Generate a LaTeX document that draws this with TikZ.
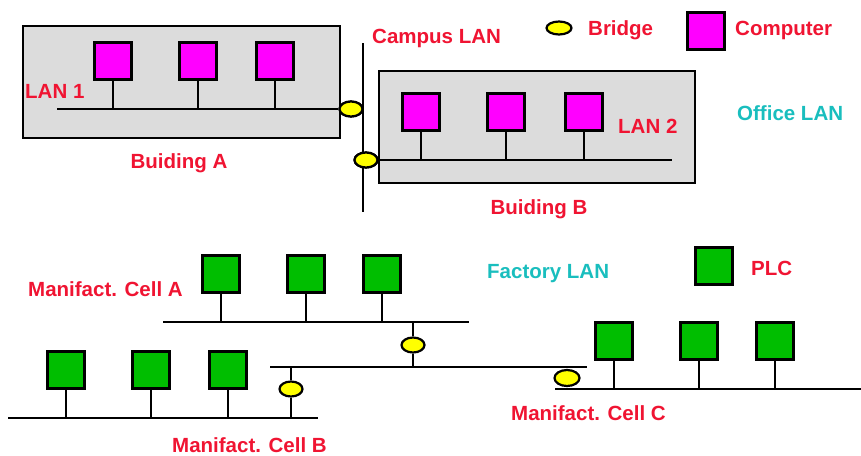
\documentclass[tikz,border=0pt]{standalone}
\usepackage{fontspec}
\setmainfont{Liberation Sans}
\usetikzlibrary{shapes.geometric}
\definecolor{lblred}{RGB}{240,20,50}
\definecolor{lblcyan}{RGB}{25,190,190}
\definecolor{pcmag}{RGB}{255,0,255}
\definecolor{plcgreen}{RGB}{0,190,0}
\definecolor{bldgray}{RGB}{220,220,220}
\definecolor{brgyellow}{RGB}{255,255,0}
\begin{document}
\begin{tikzpicture}[x=1pt,y=-1pt,
  wire/.style={line width=2.7pt},
  building/.style={draw, line width=2.8pt, fill=bldgray},
  pc/.style={draw, line width=2.8pt, fill=pcmag, minimum size=36.5pt, inner sep=0pt},
  plc/.style={draw, line width=2.8pt, fill=plcgreen, minimum size=36.5pt, inner sep=0pt},
  bridge/.style={ellipse, draw, line width=2.2pt, fill=brgyellow, minimum width=23pt, minimum height=15pt, inner sep=0pt},
  lbl/.style={text=lblred, font=\fontsize{20.5}{23}\selectfont\bfseries, inner sep=0pt},
  lblc/.style={text=lblcyan, font=\fontsize{20.5}{23}\selectfont\bfseries, inner sep=0pt}]
\useasboundingbox (0,0) rectangle (861,455);
\fill[white] (0,0) rectangle (861,455);

% Buildings
\draw[building] (23,26) rectangle (340,138);
\draw[building] (379,71) rectangle (695,183);

% Campus LAN backbone
\coordinate (campT) at (363,43);
\coordinate (campB) at (363,212);

% LAN 1
\coordinate (lan1L) at (57,109);
\node[bridge] (brA) at (351,109) {};
\draw[wire] (lan1L) -- (brA.west);
\node[pc] (a1) at (113,61) {};
\node[pc] (a2) at (198,61) {};
\node[pc] (a3) at (275,61) {};
\foreach \c in {a1,a2,a3} \draw[wire] (\c.south) -- (\c.south |- lan1L);

% LAN 2
\coordinate (lan2R) at (672,160);
\node[bridge] (brB) at (366,160) {};
\draw[wire] (brB.east) -- (lan2R);
\node[pc] (b1) at (421,112) {};
\node[pc] (b2) at (506,112) {};
\node[pc] (b3) at (584,112) {};
\foreach \c in {b1,b2,b3} \draw[wire] (\c.south) -- (\c.south |- lan2R);
\draw[wire] (campT) -- (campB);
\node[bridge] at (brA) {};
\node[bridge] at (brB) {};

% Legend
\node[bridge, minimum width=25pt, minimum height=13pt] (lgBr) at (559,28) {};
\node[lbl, anchor=west] (lgBrT) at (588,30) {Bridge};
\node[pc] (lgPc) at (706,31) {};
\node[lbl, anchor=west] (lgPcT) at (735,30) {Computer};
\node[plc] (lgPlc) at (714,266) {};
\node[lbl, anchor=west] (lgPlcT) at (751,268) {PLC};

% Labels top
\node[lbl, anchor=west] (tCampus) at (372,38) {Campus LAN};
\node[lbl, anchor=west] (tLan1) at (25,91) {LAN 1};
\node[lbl, anchor=west] (tLan2) at (618,126) {LAN 2};
\node[lbl] (tBA) at (179,163) {Buiding A};
\node[lbl] (tBB) at (539,209) {Buiding B};
\node[lblc, anchor=west] (tOffice) at (737,113) {Office LAN};
\node[lblc, anchor=west] (tFactory) at (487,274) {Factory LAN};

% Factory backbone
\coordinate (bbL) at (270,367);
\coordinate (bbR) at (587,367);
\draw[wire] (bbL) -- (bbR);

% Cell A
\coordinate (cAL) at (163,322);
\coordinate (cAR) at (469,322);
\draw[wire] (cAL) -- (cAR);
\node[plc] (ca1) at (221,274) {};
\node[plc] (ca2) at (306,274) {};
\node[plc] (ca3) at (382,274) {};
\foreach \c in {ca1,ca2,ca3} \draw[wire] (\c.south) -- (\c.south |- cAL);
\node[bridge] (brCA) at (413,345) {};
\draw[wire] (brCA.north) -- (brCA |- cAL);
\draw[wire] (brCA.south) -- (brCA |- bbL);
\node[lbl, anchor=west] (tCA) at (28,289) {Manifact. Cell A};

% Cell B
\coordinate (cBL) at (8,418);
\coordinate (cBR) at (318,418);
\draw[wire] (cBL) -- (cBR);
\node[plc] (cb1) at (66,370) {};
\node[plc] (cb2) at (151,370) {};
\node[plc] (cb3) at (228,370) {};
\foreach \c in {cb1,cb2,cb3} \draw[wire] (\c.south) -- (\c.south |- cBL);
\node[bridge] (brCB) at (291,389) {};
\draw[wire] (brCB.north) -- (brCB |- bbL);
\draw[wire] (brCB.south) -- (brCB |- cBL);
\node[lbl, anchor=west] (tCB) at (172,445) {Manifact. Cell B};

% Cell C
\coordinate (cCL) at (555,389);
\coordinate (cCR) at (861,389);
\draw[wire] (cCL) -- (cCR);
\node[plc] (cc1) at (614,341) {};
\node[plc] (cc2) at (699,341) {};
\node[plc] (cc3) at (775,341) {};
\foreach \c in {cc1,cc2,cc3} \draw[wire] (\c.south) -- (\c.south |- cCL);
\node[bridge, minimum width=25pt, minimum height=16pt] (brCC) at (567,378) {};
\node[lbl, anchor=west] (tCC) at (511,413) {Manifact. Cell C};
\end{tikzpicture}
\end{document}
